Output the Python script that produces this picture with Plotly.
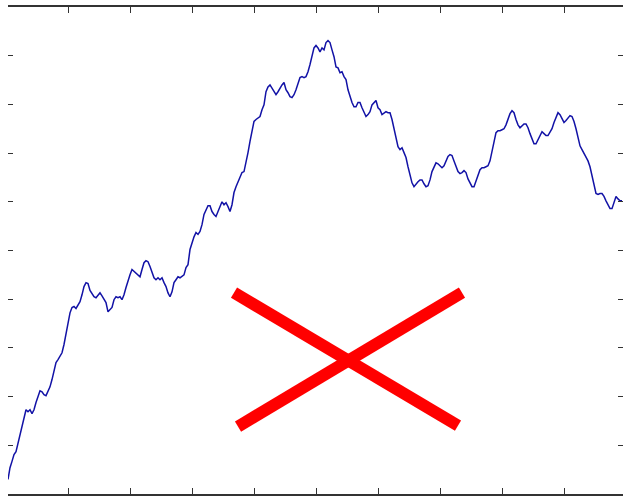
import plotly.graph_objects as go

# Random-walk path, values (arbitrary 0-100 scale)
walk = [
    3.0, 5.4, 6.7, 8.1, 8.7, 10.5, 11.8, 14.2, 15.9, 17.3,
    16.9, 17.3, 16.5, 17.3, 18.8, 19.8, 21.2, 21.0, 20.4, 20.2,
    21.0, 22.0, 23.5, 25.5, 27.0, 27.6, 28.2, 29.0, 30.7, 32.7,
    35.2, 37.2, 38.3, 38.5, 38.1, 38.9, 39.5, 40.9, 42.6, 43.4,
    43.2, 41.8, 41.1, 40.5, 40.3, 40.9, 41.3, 40.7, 39.9, 39.3,
    37.4, 37.9, 38.3, 39.9, 40.5, 40.3, 40.5, 39.9, 40.9, 42.4,
    44.0, 45.0, 46.1, 45.7, 45.5, 45.0, 44.6, 46.1, 47.5, 47.9,
    47.7, 46.7, 45.7, 44.4, 44.0, 44.4, 44.0, 44.4, 43.4, 42.6,
    41.3, 40.5, 41.5, 43.4, 44.0, 44.6, 44.4, 44.8, 45.0, 46.5,
    47.1, 50.2, 51.6, 52.8, 53.7, 53.3, 53.9, 55.3, 57.4, 58.2,
    59.2, 59.2, 58.0, 57.4, 57.0, 58.0, 59.0, 60.0, 59.4, 59.8,
    59.0, 58.0, 59.4, 61.9, 63.1, 64.1, 65.2, 66.0, 66.2, 68.0,
    70.1, 72.4, 74.8, 76.5, 76.9, 77.3, 77.5, 78.9, 79.9, 82.6,
    83.6, 84.0, 83.4, 82.6, 82.0, 82.6, 83.4, 84.0, 84.5, 83.0,
    82.4, 81.6, 81.4, 82.0, 83.0, 84.5, 85.5, 85.7, 85.5, 85.7,
    86.7, 88.2, 90.2, 91.6, 92.1, 91.6, 90.8, 91.6, 91.2, 92.7,
    93.1, 92.7, 91.2, 89.8, 87.7, 87.5, 86.5, 86.7, 85.7, 85.1,
    83.0, 81.6, 80.4, 79.5, 79.5, 80.4, 80.4, 79.3, 78.5, 77.5,
    77.9, 78.5, 79.9, 80.4, 80.8, 79.3, 78.9, 77.9, 78.3, 78.5,
    78.3, 78.3, 76.9, 74.8, 72.8, 71.3, 70.7, 71.1, 70.1, 69.1,
    67.2, 65.2, 63.9, 63.1, 63.7, 64.1, 64.5, 64.5, 63.7, 63.1,
    63.3, 64.5, 66.2, 67.2, 68.0, 67.8, 67.4, 67.0, 67.4, 68.2,
    69.3, 69.7, 69.5, 68.4, 67.2, 66.2, 65.8, 66.0, 66.4, 66.0,
    64.7, 63.7, 63.1, 63.1, 64.3, 65.6, 66.6, 67.0, 67.0, 67.2,
    67.4, 68.4, 70.3, 72.4, 74.2, 74.6, 74.6, 74.8, 75.0, 75.8,
    76.9, 78.1, 78.7, 78.3, 76.9, 75.8, 75.2, 75.6, 76.0, 76.0,
    75.2, 74.0, 72.8, 71.9, 71.9, 72.8, 73.8, 74.4, 74.0, 73.6,
    73.6, 74.2, 75.0, 76.3, 77.5, 78.3, 77.9, 76.9, 76.3, 76.7,
    77.3, 77.7, 77.5, 76.5, 75.0, 73.2, 71.5, 70.7, 69.9, 69.1,
    68.4, 67.2, 65.4, 63.3, 61.7, 61.5, 61.7, 61.7, 61.1, 60.2,
    59.2, 58.6, 58.6, 60.0, 61.1, 60.6, 60.2, 60.2,
]
steps = list(range(len(walk)))

W, H = 623, 498
M_L, M_R, M_T, M_B = 8, 0, 7, 4

fig = go.Figure()
fig.add_trace(go.Scatter(
    x=steps, y=walk, mode="lines",
    line=dict(color="#1212a6", width=1.5),
    hoverinfo="skip", showlegend=False,
))

# red cross drawn over the chart (paper coordinates)
cross_style = dict(color="#ff0000", width=12)
fig.add_shape(type="line", xref="paper", yref="paper",
              x0=0.3675, y0=0.4135, x1=0.7317, y1=0.1405,
              line=cross_style, layer="above")
fig.add_shape(type="line", xref="paper", yref="paper",
              x0=0.3740, y0=0.1384, x1=0.7382, y1=0.4135,
              line=cross_style, layer="above")

axis_common = dict(
    showgrid=False, zeroline=False, showticklabels=False,
    ticks="inside", tickcolor="#333333", tickwidth=1,
)
fig.update_xaxes(
    range=[0, 307.5], tick0=30.15, dtick=31, ticklen=6,
    showline=True, linecolor="#333333", linewidth=1.5, mirror="ticks",
    **axis_common,
)
fig.update_yaxes(
    range=[0, 100], tick0=0, dtick=10, ticklen=5,
    showline=False, mirror="ticks",
    **axis_common,
)
fig.update_layout(
    width=W, height=H, autosize=False,
    margin=dict(l=M_L, r=M_R, t=M_T, b=M_B, pad=0),
    paper_bgcolor="white", plot_bgcolor="white",
)
fig.write_html(
    "out.html",
    config={"displayModeBar": False},
    post_script="document.body.style.margin='0';"
                "document.body.style.overflow='hidden';",
)
